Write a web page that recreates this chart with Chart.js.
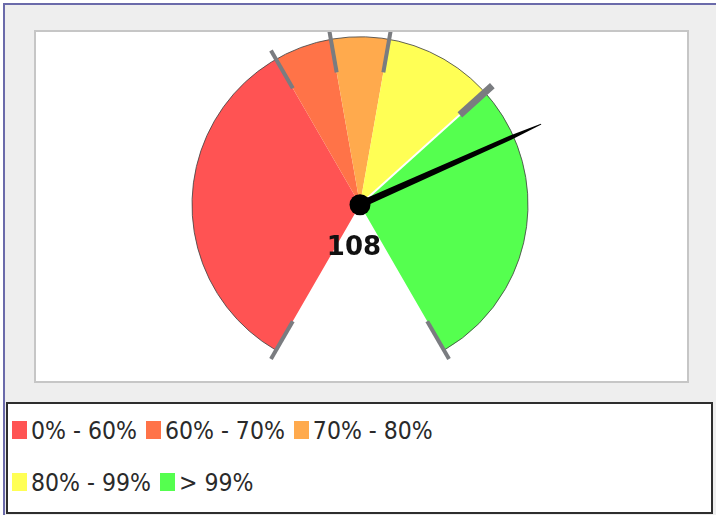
<!doctype html>
<html lang="en">
<head>
  <meta charset="utf-8">
  <title>Gauge</title>
  <script src="https://cdn.jsdelivr.net/npm/chart.js/dist/chart.umd.min.js"></script>
  <style>
    body { margin: 0; background: #fff; }
    .frame {
      position: absolute; left: 3px; top: 3px; width: 713px; height: 512px;
      background: #eeeeee; border-top: 2px solid #6a6aaa; border-left: 2px solid #6a6aaa;
      box-sizing: border-box;
    }
    .panel {
      position: absolute; left: 34px; top: 30px; width: 655px; height: 353px;
      background: #fff; border: 2px solid #c6c6c6; box-sizing: border-box;
    }
    .panel canvas { position: absolute; left: 0; top: 0; }
    .legend {
      position: absolute; left: 6px; top: 402px; width: 707px; height: 112px;
      background: #fff; border: 2px solid #2e2e2e; box-sizing: border-box;
      padding: 1px 0 0 4px;
      font-family: "DejaVu Sans Condensed", "DejaVu Sans", sans-serif; font-stretch: condensed;
      font-size: 24.5px; color: #2a2a2a; line-height: 52px; white-space: nowrap;
    }
    .legend .item { display: inline-block; margin-right: 9px; }
    .legend .box { display: inline-block; width: 15px; height: 18px; margin-right: 4px; vertical-align: baseline; }
  </style>
</head>
<body>
  <div class="frame"></div>
  <div class="panel"><canvas id="gauge" width="651" height="349"></canvas></div>
  <div class="legend" id="legend"></div>

  <script>
    // range bands (upper limit of each band, gauge runs 0..150)
    const bandLabels = ['0% - 60%', '60% - 70%', '70% - 80%', '80% - 99%', '> 99%'];
    const bandLimits = [60, 70, 80, 99, 150];
    const bandColors = ['#ff5353', '#ff7348', '#ffaa4d', '#ffff55', '#55ff4f'];
    const gaugeMin = 0;
    const gaugeValue = 108;
    const legendRows = [3, 2];

    const bandSizes = bandLimits.map((v, i) => v - (i ? bandLimits[i - 1] : gaugeMin));

    const gaugeParts = {
      id: 'gaugeParts',
      afterDatasetsDraw(chart) {
        const ctx = chart.ctx;
        const arcs = chart.getDatasetMeta(0).data;
        const cx = arcs[0].x, cy = arcs[0].y, r = arcs[0].outerRadius;
        const a0 = arcs[0].startAngle, a1 = arcs[arcs.length - 1].endAngle;
        const max = bandLimits[bandLimits.length - 1];
        ctx.save();

        // outer edge
        ctx.beginPath();
        ctx.arc(cx, cy, r, a0, a1);
        ctx.strokeStyle = 'rgba(70,70,70,0.85)';
        ctx.lineWidth = 1;
        ctx.stroke();

        const pt = (a, d) => [cx + Math.cos(a) * d, cy + Math.sin(a) * d];
        const ray = (a, from, to) => {
          ctx.beginPath();
          ctx.moveTo(...pt(a, from));
          ctx.lineTo(...pt(a, to));
          ctx.stroke();
        };

        // white split before the last band
        const lastSplit = arcs[arcs.length - 1].startAngle;
        ctx.strokeStyle = '#ffffff';
        ctx.lineWidth = 2;
        ray(lastSplit, 0, r * 0.8);

        // ticks on every band edge
        ctx.strokeStyle = '#7a7c80';
        const edges = arcs.map(a => a.startAngle).concat([a1]);
        edges.forEach(a => {
          ctx.lineWidth = a === lastSplit ? 7 : 4;
          ray(a, r * 0.8, r * 1.06);
        });

        // needle: heavy up to the rim, thin beyond it
        const na = a0 + (gaugeValue - gaugeMin) / (max - gaugeMin) * (a1 - a0);
        const side = (d, w, s) => {
          const [x, y] = pt(na, d);
          return [x + Math.cos(na + s * Math.PI / 2) * w, y + Math.sin(na + s * Math.PI / 2) * w];
        };
        ctx.beginPath();
        ctx.moveTo(...side(0, 3.6, 1));
        ctx.lineTo(...side(r * 0.98, 2.2, 1));
        ctx.lineTo(...side(r * 1.18, 0.5, 1));
        ctx.lineTo(...side(r * 1.18, 0.5, -1));
        ctx.lineTo(...side(r * 0.98, 2.2, -1));
        ctx.lineTo(...side(0, 3.6, -1));
        ctx.closePath();
        ctx.fillStyle = '#000';
        ctx.fill();

        ctx.beginPath();
        ctx.arc(cx, cy, 10.5, 0, Math.PI * 2);
        ctx.fill();

        ctx.font = 'bold 26px "DejaVu Sans"';
        ctx.textAlign = 'center';
        ctx.textBaseline = 'alphabetic';
        ctx.fillStyle = '#111';
        ctx.fillText(String(gaugeValue), cx - 6, cy + 50);
        ctx.restore();
      }
    };

    new Chart(document.getElementById('gauge'), {
      type: 'pie',
      data: {
        labels: bandLabels,
        datasets: [{
          data: bandSizes,
          backgroundColor: bandColors,
          borderWidth: 0
        }]
      },
      options: {
        responsive: false,
        animation: false,
        events: [],
        rotation: -150,
        circumference: 300,
        radius: 168,
        layout: { padding: { left: 0, right: 3, top: 0, bottom: 26 } },
        plugins: { legend: { display: false }, tooltip: { enabled: false } }
      },
      plugins: [gaugeParts]
    });

    // legend box below the panel
    const legendEl = document.getElementById('legend');
    let k = 0;
    legendRows.forEach(n => {
      const row = document.createElement('div');
      for (let i = 0; i < n; i++, k++) {
        const item = document.createElement('span');
        item.className = 'item';
        const box = document.createElement('span');
        box.className = 'box';
        box.style.background = bandColors[k];
        item.appendChild(box);
        item.appendChild(document.createTextNode(bandLabels[k]));
        row.appendChild(item);
      }
      legendEl.appendChild(row);
    });
  </script>
</body>
</html>
